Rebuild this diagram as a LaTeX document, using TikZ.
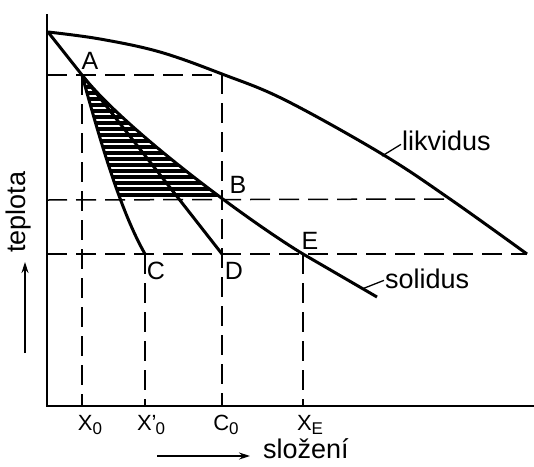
\documentclass[tikz,border=0pt]{standalone}
\usepackage{fontspec}
\setmainfont{Liberation Sans}
\usetikzlibrary{arrows.meta}

\newcommand{\lowsub}[1]{\raisebox{-0.3ex}{\fontsize{17}{19}\selectfont #1}}

\begin{document}
\begin{tikzpicture}[x=1pt, y=-1pt, >={Stealth[length=11pt, width=7pt]},
    curve/.style={line width=3pt},
    axis/.style={line width=1.6pt},
    guide/.style={line width=1.5pt, dash pattern=on 20pt off 9pt},
    leader/.style={line width=1.3pt},
    pt/.style={font=\fontsize{25}{28}\selectfont, inner sep=1pt},
    axlbl/.style={font=\fontsize{22}{25}\selectfont, inner sep=1pt},
    word/.style={font=\fontsize{27}{30}\selectfont, inner sep=1pt}]

    \useasboundingbox (0,0) rectangle (534,466);

    % -------------------------------------------------------------
    % AXES
    % -------------------------------------------------------------
    \coordinate (O) at (47,406);
    \draw[axis] (47,14) -- (O) -- (534,406);

    % characteristic points
    \coordinate (T) at (48,32);
    \coordinate (A) at (82,75);
    \coordinate (B) at (222,200);
    \coordinate (C) at (145,254);
    \coordinate (D) at (222,254);
    \coordinate (E) at (303,254);
    \coordinate (L0) at (222,75);
    \coordinate (LB) at (450,199);
    \coordinate (LE) at (527,254);

    % -------------------------------------------------------------
    % DASHED GUIDE LINES
    % -------------------------------------------------------------
    \draw[guide] (47,75) -- (L0) -- (L0 |- O);
    \draw[guide] (47,200) -- (LB);
    \draw[guide] (47,254) -- (LE);
    \draw[guide] (A) -- (A |- O);
    \draw[guide] (C) -- (C |- O);
    \draw[guide] (E) -- (E |- O);

    % -------------------------------------------------------------
    % HATCHED REGION between A, left curve and solidus
    % -------------------------------------------------------------
    \begin{scope}
        \clip (A) .. controls (100,140) and (120,210) .. (C) -- (E)
            .. controls (250,222) and (125,130) .. (A) -- cycle;
        \foreach \y in {81,87,...,195}
            \draw[line width=3.2pt] (60,\y) -- (260,\y);
    \end{scope}

    % -------------------------------------------------------------
    % CURVES
    % -------------------------------------------------------------
    % liquidus
    \draw[curve] plot[smooth, tension=0.6] coordinates
        {(48,32) (100,39) (160,52) (222,74) (285,100) (382,154) (450,199) (527,254)};
    % solidus
    \draw[curve] (T) -- (A) .. controls (125,130) and (250,222) .. (E) -- (377,297);
    % non-equilibrium solidus and mean composition
    \draw[curve] (A) .. controls (100,140) and (120,210) .. (C);
    \draw[curve] (A) -- (D);

    % -------------------------------------------------------------
    % LABELS
    % -------------------------------------------------------------
    \node[pt] (lA) at (90,61) {A};
    \node[pt] (lB) at (238,185) {B};
    \node[pt] (lC) at (156,271) {C};
    \node[pt] (lD) at (234,271) {D};
    \node[pt] (lE) at (310,241) {E};

    \node[axlbl] (x0) at (90,425) {X\lowsub{0}};
    \node[axlbl] (x0p) at (151,425) {X\textquoteright\kern-0.05em\lowsub{0}};
    \node[axlbl] (c0) at (226,425) {C\lowsub{0}};
    \node[axlbl] (xe) at (310,425) {X\lowsub{E}};

    \node[word, anchor=base west] (lik) at (401,150) {likvidus};
    \coordinate (likpt) at (382,156);
    \draw[leader] ([yshift=-4pt]lik.west) -- (likpt);

    \node[word, anchor=base west] (sol) at (384,288) {solidus};
    \coordinate (solpt) at (362,289);
    \draw[leader] ([yshift=-2pt]sol.west) -- (solpt);

    \node[word, rotate=90] (tep) at (19,212) {teplota};
    \coordinate (tdn) at (25,353);
    \coordinate (tup) at (25,262);
    \draw[->, leader] (tdn) -- (tup);

    \node[word, anchor=base west] (slo) at (262,458) {složení};
    \coordinate (sdn) at (157,456);
    \coordinate (sup) at (250,456);
    \draw[->, leader] (sdn) -- (sup);

\end{tikzpicture}
\end{document}
